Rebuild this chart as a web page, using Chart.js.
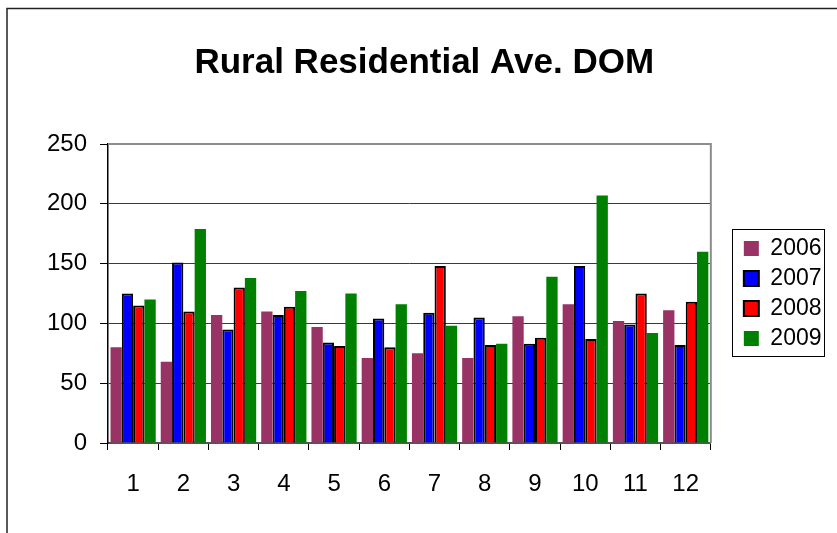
<!DOCTYPE html>
<html>
<head>
<meta charset="utf-8">
<title>Rural Residential Ave. DOM</title>
<script src="https://cdn.jsdelivr.net/npm/chart.js@4/dist/chart.umd.min.js"></script>
<style>
    html, body { margin: 0; padding: 0; background: #fff; }
    #wrap { position: relative; width: 837px; height: 533px; }
</style>
</head>
<body>
<div id="wrap"><canvas id="domChart"></canvas></div>
<script>
// Data
const months = ['1', '2', '3', '4', '5', '6', '7', '8', '9', '10', '11', '12'];
const years = ['2006', '2007', '2008', '2009'];
const dom2006 = [80, 68, 107, 110, 97, 71, 75, 71, 106, 116, 102, 111];
const dom2007 = [125, 151, 95, 107, 84, 104, 109, 105, 83, 148, 99, 82];
const dom2008 = [115, 110, 130, 114, 81, 80, 148, 82, 88, 87, 125, 118];
const dom2009 = [120, 179, 138, 127, 125, 116, 98, 83, 139, 207, 92, 160];
const yTicks = [0, 50, 100, 150, 200, 250];

const FONT = "'Liberation Sans', Arial, sans-serif";

// Outer frame + white background
const frame = {
    id: 'frame',
    beforeDraw(chart) {
        const ctx = chart.ctx;
        ctx.save();
        ctx.fillStyle = '#fff';
        ctx.fillRect(0, 0, chart.width, chart.height);
        ctx.strokeStyle = '#222';
        ctx.lineWidth = 1.5;
        ctx.beginPath();
        ctx.moveTo(7, chart.height + 2);
        ctx.lineTo(7, 8.5);
        ctx.lineTo(chart.width + 2, 8.5);
        ctx.stroke();
        ctx.restore();
    },
    afterDraw(chart) {
        // grey plot border top + right
        const a = chart.chartArea;
        const ctx = chart.ctx;
        ctx.save();
        ctx.strokeStyle = '#8c8c8c';
        ctx.lineWidth = 2;
        ctx.beginPath();
        ctx.moveTo(a.left, a.top);
        ctx.lineTo(a.right, a.top);
        ctx.lineTo(a.right, a.bottom);
        ctx.stroke();

        // box round the legend
        const boxes = chart.legend.legendHitBoxes;
        if (boxes && boxes.length) {
            const first = boxes[0];
            const last = boxes[boxes.length - 1];
            const right = Math.max(...boxes.map(b => b.left + b.width));
            ctx.strokeStyle = '#000';
            ctx.lineWidth = 1;
            ctx.strokeRect(Math.round(first.left - 12) + 0.5, Math.round(first.top - 8) + 0.5,
                Math.round(right - first.left + 14), Math.round(last.top + last.height - first.top + 14));
        }
        ctx.restore();
    }
};

// Leave a gap between plot and legend
const legendGap = {
    id: 'legendGap',
    beforeInit(chart) {
        const fit = chart.legend.fit;
        chart.legend.fit = function () {
            fit.call(this);
            this.width += 26;
        };
    },
    afterLayout(chart) {
        chart.legend.left += 26;
    }
};

function initChart() {
    const ctx = document.getElementById('domChart').getContext('2d');
    return new Chart(ctx, {
        type: 'bar',
        data: {
            labels: months,
            datasets: [{
                label: years[0],
                data: dom2006,
                backgroundColor: '#993366',
                borderWidth: 0
            }, {
                label: years[1],
                data: dom2007,
                backgroundColor: '#0000ff',
                borderColor: '#000',
                borderWidth: 2
            }, {
                label: years[2],
                data: dom2008,
                backgroundColor: '#ff0000',
                borderColor: '#000',
                borderWidth: 2
            }, {
                label: years[3],
                data: dom2009,
                backgroundColor: '#008000',
                borderWidth: 0
            }]
        },
        options: {
            responsive: true,
            maintainAspectRatio: false,
            animation: false,
            datasets: {
                bar: {
                    categoryPercentage: 0.9,
                    barPercentage: 1.0
                }
            },
            layout: {
                // x axis height counts its tick padding twice
                padding: { top: 0, left: 17, right: 5.5, bottom: 14.2 }
            },
            scales: {
                x: {
                    grid: {
                        drawOnChartArea: false,
                        drawTicks: true,
                        tickLength: 7,
                        tickColor: '#000',
                        offset: true
                    },
                    border: { color: '#555', width: 2 },
                    ticks: {
                        color: '#000',
                        padding: 20,
                        font: { family: FONT, size: 24 }
                    }
                },
                y: {
                    min: 0,
                    max: 250,
                    afterFit(scale) {
                        scale.width = 91;
                    },
                    afterBuildTicks(scale) {
                        scale.ticks = yTicks.map(v => ({ value: v }));
                    },
                    grid: {
                        color: c => (c.tick && c.tick.value === 250) ? 'rgba(0,0,0,0)' : '#3a3a3a',
                        lineWidth: 1,
                        tickLength: 8,
                        tickColor: '#000'
                    },
                    border: { color: '#000', width: 1.5 },
                    ticks: {
                        color: '#000',
                        padding: 13,
                        font: { family: FONT, size: 24 }
                    }
                }
            },
            plugins: {
                title: {
                    display: true,
                    text: 'Rural Residential Ave. DOM',
                    color: '#000',
                    font: { family: FONT, size: 35, weight: 'bold' },
                    padding: { top: 42, bottom: 60 }
                },
                legend: {
                    position: 'right',
                    fullSize: false,
                    align: 'center',
                    labels: {
                        color: '#000',
                        boxWidth: 15,
                        boxHeight: 15,
                        padding: 7,
                        font: { family: FONT, size: 23 }
                    }
                },
                tooltip: { enabled: false }
            }
        },
        plugins: [frame, legendGap]
    });
}

document.addEventListener('DOMContentLoaded', () => {
    initChart();
});
</script>
</body>
</html>
